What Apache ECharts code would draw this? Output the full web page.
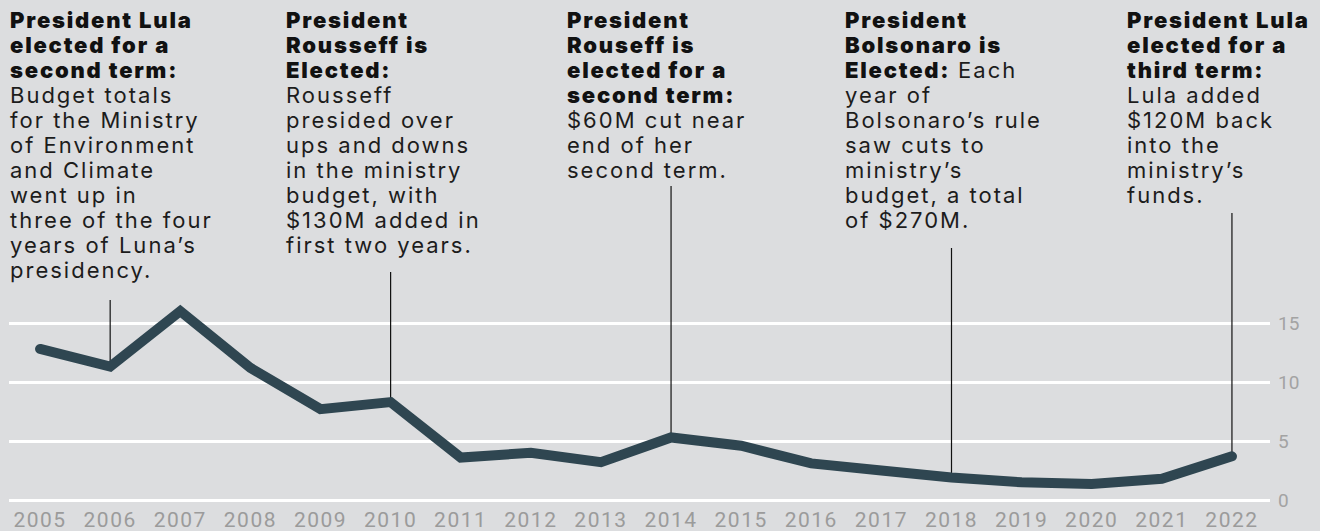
<!DOCTYPE html>
<html>
<head>
<meta charset="utf-8">
<script src="https://cdn.jsdelivr.net/npm/echarts@6/dist/echarts.min.js"></script>
<style>
html,body{margin:0;padding:0;background:#dcdddf;}
#chart{width:1320px;height:531px;}
#chart text[style*="Inter"]{letter-spacing:2px;}
#chart text[style*="Inter"][style*="900"]{letter-spacing:1.8px;}
#chart text[style*="Arial"]{letter-spacing:1.5px;}
</style>
</head>
<body>
<div id="chart"></div>
<script>
// ---- data ----
const years = ['2005','2006','2007','2008','2009','2010','2011','2012','2013','2014','2015','2016','2017','2018','2019','2020','2021','2022'];
const budget = [12.8, 11.3, 16.0, 11.2, 7.7, 8.3, 3.6, 4.0, 3.2, 5.3, 4.6, 3.1, 2.5, 1.9, 1.5, 1.35, 1.8, 3.7];
const yTicks = [0, 5, 10, 15];
const annotationYears = ['2006', '2010', '2014', '2018', '2022'];
const annotationLines = [
  [['b','President Lula'],['b','elected for a'],['b','second term:'],['r','Budget totals'],['r','for the Ministry'],['r','of Environment'],['r','and Climate'],['r','went up in'],['r','three of the four'],['r','years of Luna’s'],['r','presidency.']],
  [['b','President'],['b','Rousseff is'],['b','Elected:'],['r','Rousseff'],['r','presided over'],['r','ups and downs'],['r','in the ministry'],['r','budget, with'],['r','$130M added in'],['r','first two years.']],
  [['b','President'],['b','Rouseff is'],['b','elected for a'],['b','second term:'],['r','$60M cut near'],['r','end of her'],['r','second term.']],
  [['b','President'],['b','Bolsonaro is'],['br','Elected:','Each'],['r','year of'],['r','Bolsonaro’s rule'],['r','saw cuts to'],['r','ministry’s'],['r','budget, a total'],['r','of $270M.']],
  [['b','President Lula'],['b','elected for a'],['b','third term:'],['r','Lula added'],['r','$120M back'],['r','into the'],['r','ministry’s'],['r','funds.']]
];

// ---- layout ----
const textLeft = [10, 286, 567, 845, 1127];
const textTop = 9;
const leaderTop = [300, 272, 186, 248, 213];
const FONT = 'Inter, "Noto Sans", sans-serif';

const chart = echarts.init(document.getElementById('chart'), null, {renderer: 'svg'});

function buildText(lines) {
  return lines.map(l => {
    if (l[0] === 'b') return '{b|' + l[1] + '}';
    if (l[0] === 'r') return '{r|' + l[1] + '}';
    return '{bp|' + l[1] + '}{r| ' + l[2] + '}';
  }).join('\n');
}

const boldStyle = {fontFamily: FONT, fontWeight: 900, fontSize: 22, lineHeight: 25, fill: '#111'};
const graphics = annotationLines.map((lines, i) => ({
  type: 'text',
  left: textLeft[i],
  top: textTop,
  style: {
    text: buildText(lines),
    rich: {
      b: boldStyle,
      bp: Object.assign({}, boldStyle, {padding: [0, 14, 0, 0]}),
      r: {fontFamily: FONT, fontWeight: 400, fontSize: 22, lineHeight: 25, fill: '#1c1c1c'}
    }
  }
}));

const annotationData = annotationYears.map(y => [y, budget[years.indexOf(y)]]);

chart.setOption({
  backgroundColor: '#dcdddf',
  animation: false,
  grid: [
    {left: 5, right: 53, top: 323, bottom: 31},
    {left: 9, right: 50, top: 323, bottom: 31}
  ],
  xAxis: [
    {
      type: 'category', gridIndex: 0, data: years, boundaryGap: true,
      axisLine: {show: false}, axisTick: {show: false},
      axisLabel: {color: '#9b9b9b', fontFamily: 'Roboto, Arial, sans-serif', fontSize: 21, margin: 9}
    },
    {type: 'value', gridIndex: 1, show: false, min: 0, max: 1}
  ],
  yAxis: [
    {type: 'value', gridIndex: 0, min: 0, max: 15, interval: 5, show: false},
    {
      type: 'value', gridIndex: 1, min: 0, max: 15, interval: 5, position: 'right',
      axisLine: {show: false}, axisTick: {show: false},
      splitLine: {show: true, lineStyle: {color: '#ffffff', width: 3}},
      axisLabel: {color: '#a3a3a3', fontFamily: 'Roboto, sans-serif', fontSize: 19, margin: 8,
        formatter: v => yTicks.includes(v) ? String(v) : ''}
    }
  ],
  graphic: graphics,
  series: [
    {
      type: 'custom',
      xAxisIndex: 0, yAxisIndex: 0,
      data: annotationData,
      clip: false,
      z: 1,
      renderItem: function (params, api) {
        const p = api.coord([api.value(0), api.value(1)]);
        const i = params.dataIndex;
        return {
          type: 'line',
          shape: {x1: p[0], y1: leaderTop[i], x2: p[0], y2: p[1] - 4},
          style: {stroke: '#111', lineWidth: 1.2}
        };
      },
      encode: {x: 0, y: 1}
    },
    {
      type: 'line',
      xAxisIndex: 0, yAxisIndex: 0,
      data: budget,
      clip: false,
      z: 3,
      symbol: 'none',
      lineStyle: {color: '#2f4651', width: 10, cap: 'round', join: 'miter'}
    }
  ]
});
</script>
</body>
</html>
